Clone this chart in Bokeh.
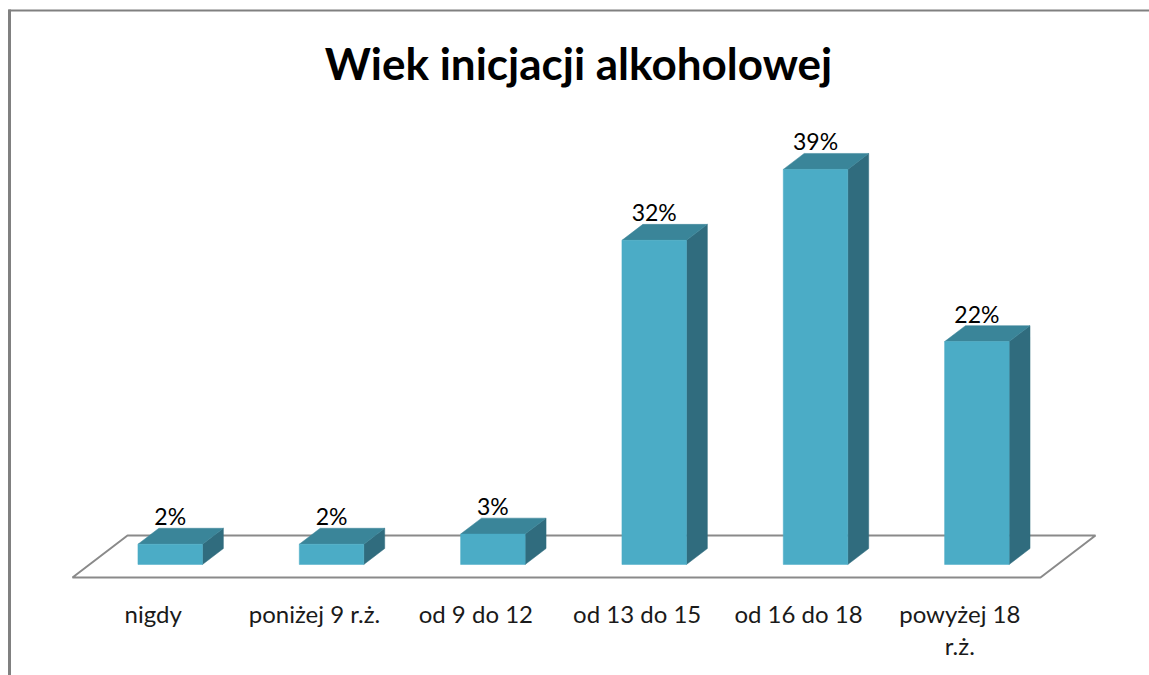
from bokeh.plotting import figure
from bokeh.models import Range1d
from bokeh.core.properties import value
from bokeh.embed import file_html
from bokeh.resources import INLINE

# ---- data ----
categories = ["nigdy", "poniżej 9 r.ż.", "od 9 do 12", "od 13 do 15", "od 16 do 18", "powyżej 18\nr.ż."]
percents = [2, 2, 3, 32, 39, 22]
value_labels = ["2%", "2%", "3%", "32%", "39%", "22%"]
title_text = "Wiek inicjacji alkoholowej"

# ---- layout helpers (page pixels -> data units) ----
W, H = 1149, 675
PAGE = 0
CAT_PX = 161.33   # pixels per category
PCT_PX = 10.13    # pixels per percent
ORIGIN_X = 72     # floor front-left corner (page px)
ORIGIN_Y = 577


def ux(px):
    return (px - ORIGIN_X) / CAT_PX


def uy(py):
    return (ORIGIN_Y - py) / PCT_PX


DX = 55 / CAT_PX   # depth vector (category units)
DY = 42 / PCT_PX   # depth vector (percent units)
Z0, Z1 = 0.31, 0.69
BAR_W = 0.40

FRONT = "#4BACC6"
TOP = "#3A8599"
SIDE = "#306C7E"
FONT = "Lato"

p = figure(width=W, height=H,
           x_range=Range1d(ux(PAGE), ux(PAGE + W)),
           y_range=Range1d(uy(PAGE + H), uy(PAGE)),
           output_backend="svg", toolbar_location=None, min_border=0,
           x_axis_location=None, y_axis_location=None)
p.xgrid.visible = False
p.ygrid.visible = False
p.outline_line_color = None
p.background_fill_color = "white"
p.border_fill_color = "white"

n = len(categories)

# chart border (top and left visible in the crop)
p.line([ux(9), ux(9)], [uy(9), uy(PAGE + H)], line_color="#808080", line_width=3)
p.line([ux(8), ux(PAGE + W)], [uy(10), uy(10)], line_color="#808080", line_width=2)

# floor
p.patch([0, n, n + DX, DX], [0, 0, DY, DY], fill_color="white",
        line_color="#8A8A8A", line_width=2)

# bars
front_xs, front_ys, top_xs, top_ys, side_xs, side_ys = [], [], [], [], [], []
lab_x, lab_y = [], []
for i, v in enumerate(percents):
    xl = i + 0.5 - BAR_W / 2 + Z0 * DX
    xr = xl + BAR_W
    b0 = Z0 * DY
    t0 = v + Z0 * DY
    dd = Z1 - Z0
    ddx, ddy = dd * DX, dd * DY
    front_xs.append([xl, xr, xr, xl]); front_ys.append([b0, b0, t0, t0])
    top_xs.append([xl, xr, xr + ddx, xl + ddx]); top_ys.append([t0, t0, t0 + ddy, t0 + ddy])
    side_xs.append([xr, xr + ddx, xr + ddx, xr]); side_ys.append([b0, b0 + ddy, t0 + ddy, t0])
    lab_x.append(i + 0.5 + Z0 * DX)
    lab_y.append(t0 + ddy + 12 / PCT_PX)

p.patches(side_xs, side_ys, fill_color=SIDE, line_color=SIDE, line_width=0.5)
p.patches(top_xs, top_ys, fill_color=TOP, line_color=TOP, line_width=0.5)
p.patches(front_xs, front_ys, fill_color=FRONT, line_color=FRONT, line_width=0.5)

# value labels
p.text(x=lab_x, y=lab_y, text=value_labels, text_font=value(FONT), text_font_size="23px",
       text_align="center", text_baseline="middle", text_color="#000000")

# category labels (multi-line split)
cx, cy, ct = [], [], []
for i, c in enumerate(categories):
    for j, line in enumerate(c.split("\n")):
        cx.append(i + 0.5)
        cy.append(uy(613) - j * (32 / PCT_PX))
        ct.append(line)
p.text(x=cx, y=cy, text=ct, text_font=value(FONT), text_font_size="24px",
       text_align="center", text_baseline="middle", text_color="#1A1A1A")

# title
p.text(x=[ux(578)], y=[uy(62)], text=[title_text], text_font=value(FONT),
       text_font_size="44px", text_font_style="bold", text_align="center",
       text_baseline="middle", text_color="#000000")

open("out.html", "w").write(file_html(p, INLINE))
